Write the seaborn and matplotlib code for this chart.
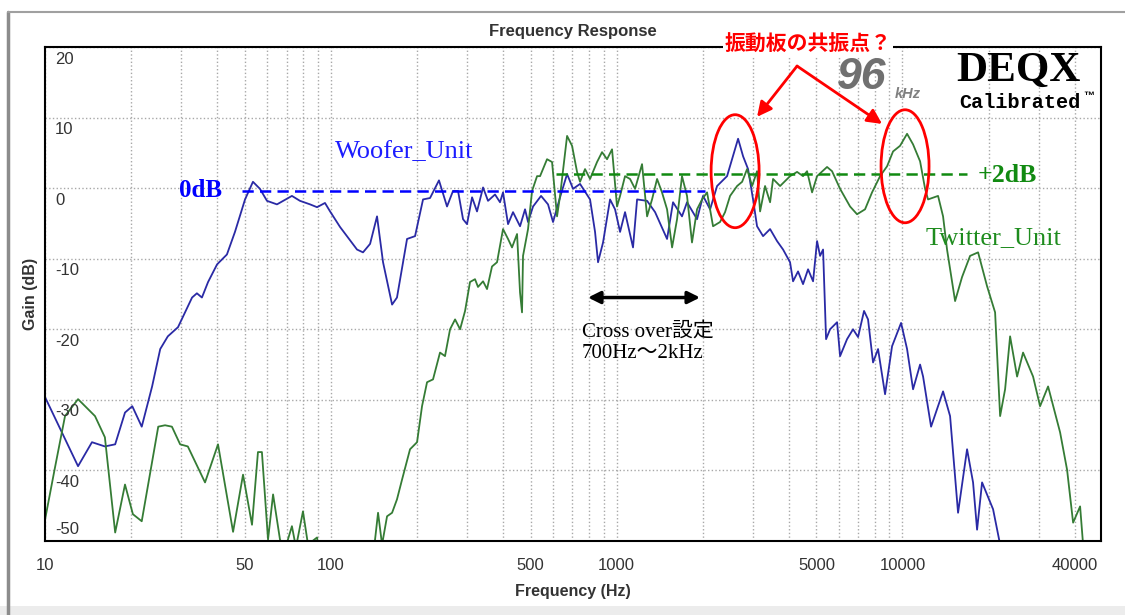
import numpy as np
import pandas as pd
import matplotlib
matplotlib.use("Agg")
import matplotlib.pyplot as plt
import seaborn as sns
from matplotlib.patches import Ellipse, Rectangle
from matplotlib.lines import Line2D
from matplotlib.ticker import FixedLocator, LogLocator, MultipleLocator, NullFormatter
from matplotlib.transforms import blended_transform_factory, offset_copy

# woofer (blue) response
woofer_hz = [10, 13.05, 14.6, 16.2, 17.6, 19.05, 20.2, 21.8, 23.7, 25.3, 26.9, 29.2, 32.7, 34.0,
             35.4, 37.2, 40.0, 43.3, 46.2, 50.1, 53.4, 56.5, 59.8, 64.8, 73.1, 78.0, 84.6, 89.5,
             95.4, 99.4, 107.7, 123.5, 129.6, 137.2, 145.1, 152.3, 163.8, 170.4, 184.8, 197.1,
             210.2, 222.4, 239.0, 255.0, 267.6, 278.7, 290.1, 299.6, 312.0, 324.7, 340.9, 354.8,
             375.4, 390.8, 400.4, 416.9, 434.0, 459.2, 478.1, 489.8, 510.0, 543.9, 575.4, 599.0,
             633.8, 670.8, 703.9, 744.6, 807.1, 840.3, 860.8, 896.2, 948.3, 987.2, 1028, 1070,
             1141, 1179, 1278, 1363, 1501, 1575, 1693, 1763, 1911, 2006, 2123, 2246, 2434, 2660,
             2770, 2883, 3001, 3099, 3253, 3442, 3641, 3822, 4043, 4142, 4312, 4489, 4674, 4867,
             5026, 5149, 5275, 5404, 5581, 5905, 6050, 6399, 6716, 6992, 7338, 7578, 7890, 8215,
             8692, 9196, 9888, 10378, 10891, 11525, 11807, 12592, 13869, 14675, 15649, 16827,
             17660, 18240, 18990, 20750, 21960]
woofer_db = [-29.6, -39.4, -36.0, -36.6, -36.3, -31.8, -30.9, -33.8, -28.1, -22.8, -21.0, -19.7,
             -15.5, -14.9, -15.5, -13.3, -10.8, -9.4, -6.2, -1.6, 0.9, -0.1, -1.8, -2.3, -1.1,
             -1.8, -2.3, -2.7, -2.1, -3.3, -5.5, -8.7, -9.1, -7.9, -4.0, -10.5, -16.5, -15.5,
             -7.2, -6.8, -1.6, -1.4, 1.1, -2.6, -0.4, -0.4, -4.4, -5.1, -1.3, -3.3, 0.1, -1.8,
             -0.9, -2.0, -0.6, -5.1, -3.4, -5.4, -3.0, -4.8, -2.6, -1.1, -2.3, -4.8, -1.3, 2.0,
             -0.1, 0.6, -1.6, -6.2, -10.5, -7.7, -1.6, -3.0, -6.2, -3.4, -8.4, -1.6, -1.8, -3.4,
             -7.2, -2.0, -4.0, -2.0, -4.4, -1.1, -3.0, 0.3, 1.7, 7.0, 4.5, 2.7, -1.6, -5.4, -6.8,
             -5.8, -7.5, -8.7, -10.5, -13.2, -11.8, -13.6, -11.5, -13.2, -7.5, -9.6, -8.7, -21.4,
             -20.0, -19.0, -23.8, -21.4, -20.0, -21.1, -17.4, -18.6, -24.7, -22.8, -29.2, -22.4,
             -19.1, -22.8, -28.5, -25.0, -26.7, -33.8, -28.8, -32.3, -46.0, -37.0, -41.7, -48.4,
             -41.7, -45.5, -50.5]

# tweeter (green) response
tweeter_hz = [10, 10.8, 11.75, 13.05, 14.96, 16.2, 17.6, 19.05, 20.3, 21.8, 24.9, 26.3, 27.8,
              29.7, 31.6, 36.3, 40.3, 45.5, 49.3, 53.0, 55.6, 57.4, 60.3, 62.8, 66.4, 69.1, 73.1,
              75.5, 79.9, 83.2, 89.5, 93.2, 137, 142.8, 146.3, 151.1, 157.3, 163.8, 170.4, 177.5,
              189.3, 200.3, 208.5, 217.1, 227.8, 241.0, 250.9, 261.3, 272.1, 283.3, 294.9, 306.9,
              319.5, 327.3, 340.9, 352.0, 366.4, 381.5, 400.4, 416.9, 430.5, 448.3, 459.2, 466.6,
              470.4, 489.8, 505.9, 526.7, 539.6, 570.8, 594.3, 618.7, 633.8, 670.8, 698.2, 726.9,
              744.6, 775.2, 807.1, 853.9, 889.0, 925.6, 963.6, 1003, 1028, 1070, 1114, 1160, 1227,
              1278, 1330, 1385, 1441, 1501, 1563, 1627, 1693, 1763, 1835, 1911, 1990, 2072, 2174,
              2300, 2395, 2494, 2639, 2748, 2860, 2978, 3099, 3176, 3306, 3442, 3526, 3731, 4043,
              4278, 4489, 4637, 4828, 5026, 5447, 5671, 6050, 6556, 6936, 7397, 7827, 8350, 8834,
              9270, 9808, 10378, 10891, 11525, 12000, 12290, 13320, 13869, 14320, 15280, 16160,
              17240, 18390, 19770, 21090, 21960, 22860, 23800, 25180, 26420, 28640, 30300, 32320,
              35600, 37660, 39540, 41830, 42850]
tweeter_db = [-47.0, -39.9, -32.3, -29.9, -32.3, -35.3, -48.8, -42.0, -46.2, -47.2, -33.8, -33.6,
              -33.8, -36.3, -36.6, -41.7, -36.3, -48.7, -40.6, -47.7, -37.4, -37.4, -49.8, -43.4,
              -49.8, -51.2, -47.9, -50.9, -45.8, -50.5, -49.5, -54.0, -54.0, -49.8, -46.0, -50.5,
              -46.5, -46.0, -44.1, -41.3, -37.0, -36.0, -30.9, -27.5, -27.1, -23.3, -23.8, -20.0,
              -18.6, -20.0, -17.4, -13.3, -12.9, -14.0, -13.2, -14.3, -11.1, -10.5, -5.8, -7.2,
              -8.4, -6.5, -14.8, -17.6, -9.6, -5.8, -0.4, 1.7, 1.7, 4.1, 3.7, -4.0, -1.1, 7.4, 6.0,
              2.3, 0.9, 2.7, 1.3, 3.7, 5.1, 4.1, 5.5, -2.6, -1.1, 1.7, 1.3, -0.1, 3.4, -4.0, -1.6,
              1.3, -0.6, -3.0, -8.4, -4.4, 1.7, -1.1, -7.7, -3.0, -1.6, -0.6, -5.4, -4.8, -3.4,
              -1.1, 0.3, 0.9, 2.7, 0.3, 2.4, -3.3, 0.3, -2.0, 1.3, 0.3, 1.7, 2.3, 1.7, 2.4, -0.6,
              1.7, 3.0, 2.4, -0.1, -2.6, -3.7, -3.0, -0.6, 1.7, 3.1, 5.2, 6.0, 7.7, 6.2, 3.8, -0.1,
              -1.6, -1.1, -4.0, -8.7, -16.0, -12.6, -9.6, -9.1, -13.9, -17.6, -32.3, -28.5, -21.0,
              -26.7, -23.3, -26.7, -30.9, -28.1, -34.6, -39.9, -47.4, -45.1, -50.5]

ytick_vals = [20, 10, 0, -10, -20, -30, -40, -50]
xtick_vals = [10, 50, 100, 500, 1000, 5000, 10000, 40000]
xtick_labels = ["10", "50", "100", "500", "1000", "5000", "10000", "40000"]

woofer_level = -0.4     # the "0dB" reference line
woofer_span = [49, 2040]
tweeter_level = 2.0     # the "+2dB" reference line
tweeter_span = [614, 16800]

woofer = pd.DataFrame({"freq": woofer_hz, "gain": woofer_db})
tweeter = pd.DataFrame({"freq": tweeter_hz, "gain": tweeter_db})

sns.set_style("white")
plt.rcParams["font.family"] = ["Liberation Sans", "Noto Sans CJK JP", "DejaVu Sans"]

fig = plt.figure(figsize=(11.25, 6.15), dpi=100)
ax = fig.add_axes([45 / 1125, 74 / 615, 1056 / 1125, 494 / 615])

sns.lineplot(data=woofer, x="freq", y="gain", ax=ax, color="#2a2aa5", lw=1.3,
             estimator=None, sort=False)
sns.lineplot(data=tweeter, x="freq", y="gain", ax=ax, color="#357c35", lw=1.3,
             estimator=None, sort=False)

ax.set_xscale("log")
ax.set_xlim(10, 49500)
ax.set_ylim(-50, 20)

# grid + ticks
ax.xaxis.set_major_locator(FixedLocator(xtick_vals))
ax.xaxis.set_minor_locator(LogLocator(base=10, subs=np.arange(1, 10)))
ax.xaxis.set_minor_formatter(NullFormatter())
ax.set_xticklabels(xtick_labels)
ax.set_yticks(ytick_vals)
ax.yaxis.set_minor_locator(MultipleLocator(1))
ax.set_yticklabels([])
ax.grid(True, which="both", axis="x", ls=":", color="#a8a8a8", lw=1)
ax.grid(True, which="major", axis="y", ls=":", color="#a8a8a8", lw=1)
ax.tick_params(axis="x", which="both", direction="out", length=6, width=1.3, color="black",
               labelsize=12, labelcolor="#333333", pad=6)
ax.tick_params(axis="y", which="major", direction="in", length=8, width=1.3, color="black")
ax.tick_params(axis="y", which="minor", direction="in", length=3, width=1, color="black")
for s in ax.spines.values():
    s.set_color("black")
    s.set_linewidth(1.5)

# y labels sit inside the frame, just under their gridline
ytr = blended_transform_factory(ax.transAxes, ax.transData)
for v in ytick_vals:
    dy = 11 if v == -50 else -12
    ax.text(0, v, str(v), transform=offset_copy(ytr, fig=fig, x=10, y=dy, units="dots"),
            ha="left", va="center", fontsize=12, color="#333333")

ax.set_xlabel("Frequency (Hz)", fontsize=11.5, fontweight="bold", color="#333333", labelpad=8)
ax.set_ylabel("Gain (dB)", fontsize=11.5, fontweight="bold", color="#333333")
ax.yaxis.set_label_coords(-0.007, 0.5)
ax.set_title("Frequency Response", fontsize=12, fontweight="bold", color="#333333", pad=8)

# reference levels
ax.plot(woofer_span, [woofer_level] * 2, color="#0000ff", lw=1.8, ls=(0, (4.5, 2.5)))
ax.plot(tweeter_span, [tweeter_level] * 2, color="#118a11", lw=1.8, ls=(0, (4.5, 2.5)))

serif = ["Liberation Serif", "Noto Sans CJK JP"]
ax.text(34.9, -0.4, "0dB", color="#0000ff", fontsize=18, fontweight="bold", family=serif,
        ha="center", va="center")
ax.text(18390, 1.8, "+2dB", color="#118a11", fontsize=18.5, fontweight="bold", family=serif,
        ha="left", va="center")
ax.text(103.4, 5.1, "Woofer_Unit", color="#1c1cff", fontsize=19, family=serif,
        ha="left", va="center")
ax.text(12000, -7.0, "Twitter_Unit", color="#1e8c1e", fontsize=19, family=serif,
        ha="left", va="center")

# crossover band
ax.annotate("", xy=(1958, -15.5), xytext=(794, -15.5),
            arrowprops=dict(arrowstyle="<|-|>", color="black", lw=2.5, mutation_scale=18,
                            shrinkA=0, shrinkB=0))
ax.text(757, -20.4, "Cross over設定", fontsize=15, family=serif, color="black",
        ha="left", va="center")
ax.text(757, -23.5, "700Hz～2kHz", fontsize=15, family=serif, color="black",
        ha="left", va="center")

# resonance notes
ax.text(4674, 20.4, "振動板の共振点？", fontsize=15, fontweight="bold", color="red",
        family=["Noto Sans CJK JP"], ha="center", va="center", clip_on=False, zorder=5,
        bbox=dict(facecolor="white", edgecolor="none", pad=1))
for head in [(3099, 10.1), (8485, 9.1)]:
    ax.annotate("", xy=head, xytext=(4278, 17.3),
                arrowprops=dict(arrowstyle="-|>", color="red", lw=2, mutation_scale=22,
                                shrinkA=0, shrinkB=0))
to_axes = ax.transData + ax.transAxes.inverted()
for c in [(2597, 2.4), (10210, 3.1)]:
    cx, cy = to_axes.transform(c)
    ax.add_patch(Ellipse((cx, cy), 48 / 1056, 113 / 494, transform=ax.transAxes,
                         fill=False, edgecolor="red", lw=2, zorder=6))

# logo marks
ax.text(7222, 15.7, "96", fontsize=32, fontweight="bold", style="italic", color="#707070",
        ha="center", va="center")
ax.text(9420, 13.4, "kHz", fontsize=10.5, fontweight="bold", style="italic", color="#808080",
        ha="left", va="center")
ax.text(25400, 16.6, "DEQX", fontsize=31, fontweight="bold", family=serif, color="black",
        ha="center", va="center")
ax.text(25800, 12.2, "Calibrated", fontsize=14.5, fontweight="bold", family=["Liberation Mono"],
        color="black", ha="center", va="center")
ax.text(43000, 13.1, "™", fontsize=8, fontweight="bold", color="black", ha="left", va="center")

# screenshot window frame
fig.add_artist(Line2D([8 / 1125, 8 / 1125], [0, 1 - 12 / 615], transform=fig.transFigure,
                      color="#8c8c8c", lw=2.5))
fig.add_artist(Line2D([8 / 1125, 1], [1 - 12 / 615] * 2, transform=fig.transFigure,
                      color="#a0a0a0", lw=1.5))
fig.add_artist(Rectangle((0, 0), 1, 9 / 615, transform=fig.transFigure,
                         facecolor="#ececec", edgecolor="none"))

fig.savefig("out.png", dpi=100)
